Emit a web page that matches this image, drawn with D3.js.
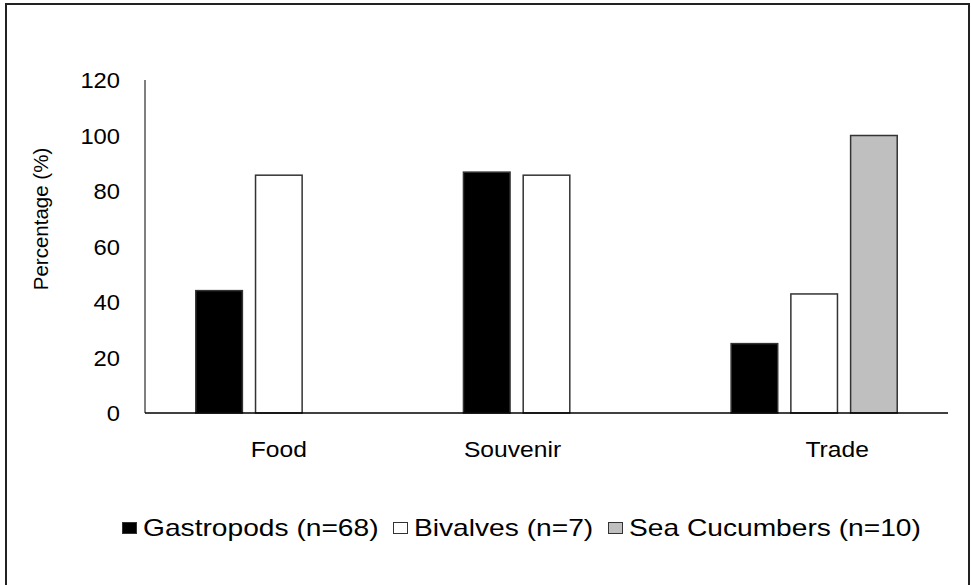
<!DOCTYPE html>
<html>
<head>
<meta charset="utf-8">
<script src="https://cdn.jsdelivr.net/npm/d3@7"></script>
<style>
  body { margin: 0; background: #fff; }
  text { font-family: "Liberation Sans", Arial, sans-serif; fill: #000; }
</style>
</head>
<body>
<div id="chart"></div>
<script>
// data
var categories = ["Food", "Souvenir", "Trade"];
var seriesNames = ["Gastropods (n=68)", "Bivalves (n=7)", "Sea Cucumbers (n=10)"];
var gastropods = [44.1, 86.8, 25.0];
var bivalves = [85.7, 85.7, 42.9];
var seaCucumbers = [0, 0, 100];
var yTicks = [0, 20, 40, 60, 80, 100, 120];
var colors = ["#000000", "#ffffff", "#bfbfbf"];

var allSeries = [gastropods, bivalves, seaCucumbers];
var sx = 1.225; // picture is stretched sideways a bit
var labelShift = [0, -34, 23]; // category labels sit off-centre in the original

var svg = d3.select("#chart").append("svg")
	.attr("width", 971)
	.attr("height", 585);

// outer frame
svg.append("rect")
	.attr("x", 6).attr("y", 4)
	.attr("width", 963).attr("height", 600)
	.attr("fill", "none")
	.attr("stroke", "#222")
	.attr("stroke-width", 2);

var x0 = d3.scaleBand().domain(categories).range([145, 948]);
var x1 = d3.scaleBand().domain(d3.range(3)).range([0, x0.bandwidth()])
	.paddingInner(0.22).paddingOuter(0.85);
var y = d3.scaleLinear().domain([0, 120]).range([413, 80]);

// bars
var groups = svg.selectAll("g.cat").data(categories)
	.enter().append("g")
	.attr("class", "cat")
	.attr("transform", function(d) { return "translate(" + x0(d) + ",0)"; });

groups.selectAll("rect")
	.data(function(d, i) { return allSeries.map(function(s, k) { return {k: k, v: s[i]}; }).filter(function(e) { return e.v > 0; }); })
	.enter().append("rect")
	.attr("x", function(d) { return x1(d.k); })
	.attr("y", function(d) { return y(d.v); })
	.attr("width", x1.bandwidth())
	.attr("height", function(d) { return y(0) - y(d.v); })
	.attr("fill", function(d) { return colors[d.k]; })
	.attr("stroke", "#333")
	.attr("stroke-width", 1.5);

// axes lines
svg.append("line")
	.attr("x1", 145).attr("x2", 145)
	.attr("y1", y(120)).attr("y2", y(0))
	.attr("stroke", "#000").attr("stroke-width", 1);
svg.append("line")
	.attr("x1", 145).attr("x2", 948)
	.attr("y1", y(0)).attr("y2", y(0))
	.attr("stroke", "#000").attr("stroke-width", 1.5);

// y tick labels
svg.selectAll("text.ytick").data(yTicks)
	.enter().append("text")
	.attr("class", "ytick")
	.attr("transform", function(d) { return "translate(120," + (y(d) + 8) + ") scale(1.08,1)"; })
	.attr("text-anchor", "end")
	.attr("font-size", "22px")
	.text(function(d) { return d; });

// category labels
svg.selectAll("text.xlab").data(categories)
	.enter().append("text")
	.attr("class", "xlab")
	.attr("transform", function(d, i) { return "translate(" + (x0(d) + x0.bandwidth() / 2 + labelShift[i]) + ",457) scale(1.12,1)"; })
	.attr("text-anchor", "middle")
	.attr("font-size", "22px")
	.text(function(d) { return d; });

// axis title
svg.append("text")
	.attr("transform", "translate(48,219) rotate(-90)")
	.attr("text-anchor", "middle")
	.attr("font-size", "20.5px")
	.text("Percentage (%)");

// legend
var legX = [122, 393, 608];
var leg = svg.selectAll("g.leg").data(seriesNames)
	.enter().append("g")
	.attr("class", "leg")
	.attr("transform", function(d, i) { return "translate(" + legX[i] + ",522)"; });
leg.append("rect")
	.attr("x", 0.5).attr("y", 0.5)
	.attr("width", 14).attr("height", 11)
	.attr("fill", function(d, i) { return colors[i]; })
	.attr("stroke", "#333")
	.attr("stroke-width", 1);
leg.append("text")
	.attr("transform", "translate(21,14) scale(" + sx + ",1)")
	.attr("font-size", "23px")
	.text(function(d) { return d; });
</script>
</body>
</html>
